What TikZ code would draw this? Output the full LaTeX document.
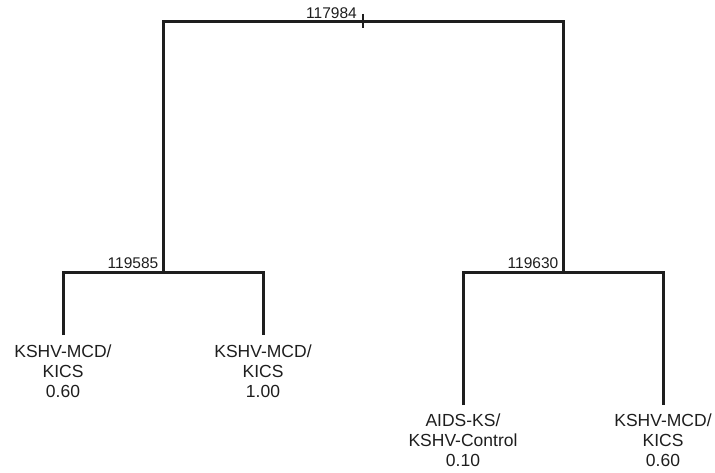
\documentclass[tikz,border=0pt]{standalone}
\usepackage{fontspec}
\setmainfont{Liberation Sans}
\usetikzlibrary{positioning}
\definecolor{ink}{RGB}{30,30,30}
\tikzset{
  br/.style  ={draw=ink,line width=3pt,line join=miter},
  tk/.style  ={draw=ink,line width=1.8pt},
  num/.style ={text=ink,inner sep=0pt,font=\fontsize{15.5}{18}\selectfont},
  leaf/.style={text=ink,inner sep=0pt,align=center,anchor=north,font=\fontsize{17.5}{20}\selectfont},
}
\begin{document}
\begin{tikzpicture}[x=1pt,y=-1pt]
  \useasboundingbox (0,0) rectangle (715,473);
  % joints of the tree
  \coordinate (root) at (363,22);
  \coordinate (rl) at (163,22);
  \coordinate (rr) at (563,22);
  \coordinate (a) at (163,272);
  \coordinate (al) at (63,272);
  \coordinate (ar) at (263,272);
  \coordinate (b) at (563,272);
  \coordinate (bl) at (463,272);
  \coordinate (bbr) at (663,272);
  \coordinate (t1) at (63,335);
  \coordinate (t2) at (263,335);
  \coordinate (t3) at (463,405);
  \coordinate (t4) at (663,405);
  % leaves
  \node[leaf,below=10pt of t1] (l1) {KSHV-MCD/\\KICS\\0.60};
  \node[leaf,below=10pt of t2] (l2) {KSHV-MCD/\\KICS\\1.00};
  \node[leaf,below=9pt of t3] (l3) {AIDS-KS/\\KSHV-Control\\0.10};
  \node[leaf,below=9pt of t4] (l4) {KSHV-MCD/\\KICS\\0.60};
  % branches
  \draw[br] (t1) -- (al) -- (ar) -- (t2);
  \draw[br] (t3) -- (bl) -- (bbr) -- (t4);
  \draw[br] (a) -- (rl) -- (rr) -- (b);
  \draw[tk] (root) ++(0,-8) -- ++(0,14);
  % node labels
  \node[num,anchor=base east] (n0) at ([xshift=-6pt,yshift=3pt]root) {117984};
  \node[num,anchor=base east] (n1) at ([xshift=-4.5pt,yshift=3.5pt]a) {119585};
  \node[num,anchor=base east] (n2) at ([xshift=-4.5pt,yshift=3.5pt]b) {119630};
\end{tikzpicture}
\end{document}
